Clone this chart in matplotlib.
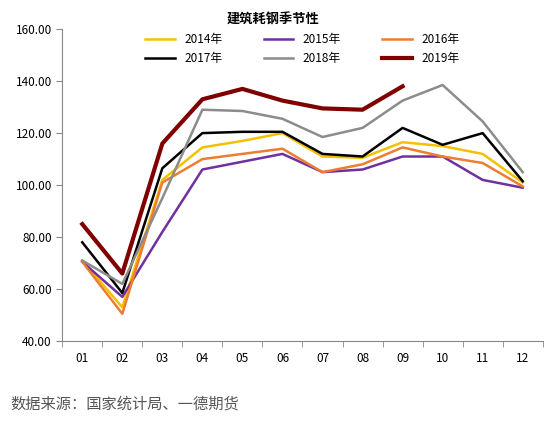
import matplotlib.pyplot as plt

plt.rcParams['font.family'] = ['Noto Sans CJK SC', 'DejaVu Sans']

months = ['01', '02', '03', '04', '05', '06', '07', '08', '09', '10', '11', '12']
y2014 = [71, 53, 102, 114.5, 117, 120, 111, 110.5, 116.5, 115, 112, 101]
y2015 = [70.5, 57, 82, 106, 109, 112, 105, 106, 111, 111, 102, 99]
y2016 = [70.5, 50.5, 101, 110, 112, 114, 105, 108, 114.5, 111, 108.5, 99.5]
y2017 = [78, 58.5, 106.5, 120, 120.5, 120.5, 112, 111, 122, 115.5, 120, 101.5]
y2018 = [71, 62, 95, 129, 128.5, 125.5, 118.5, 122, 132.5, 138.5, 124.5, 105]
y2019 = [85, 66, 116, 133, 137, 132.5, 129.5, 129, 138]

series = [
    ('2014年', y2014, '#f5c000', 1.8),
    ('2015年', y2015, '#7030a0', 1.8),
    ('2016年', y2016, '#ed7d31', 1.8),
    ('2017年', y2017, '#000000', 1.8),
    ('2018年', y2018, '#8c8c8c', 1.8),
    ('2019年', y2019, '#800000', 3.0),
]

fig = plt.figure(figsize=(5.46, 4.28), dpi=100)
ax = fig.add_axes([0.114, 0.203, 0.88, 0.729])
lines = []
for name, vals, col, lw in series:
    ln, = ax.plot(range(len(vals)), vals, color=col, lw=lw, label=name)
    lines.append(ln)

ax.set_xlim(-0.5, 11.5)
ax.set_ylim(40, 160)
ax.set_yticks(range(40, 161, 20))
ax.set_yticklabels([f'{v:.2f}' for v in range(40, 161, 20)], fontsize=8.5)
ax.set_xticks(range(12))
ax.set_xticklabels(months, fontsize=8.5)
ax.set_xticks([i - 0.5 for i in range(13)], minor=True)
ax.tick_params(axis='x', which='major', length=0, pad=8)
ax.tick_params(axis='x', which='minor', length=4, color='#888888')
ax.tick_params(axis='y', length=4, color='#888888')
for s in ['top', 'right']:
    ax.spines[s].set_visible(False)
for s in ['left', 'bottom']:
    ax.spines[s].set_color('#888888')

# row-major legend order
order = [0, 3, 1, 4, 2, 5]
ax.legend([lines[i] for i in order], [series[i][0] for i in order],
          loc='upper center', bbox_to_anchor=(0.5, 1.02), ncol=3, frameon=False,
          fontsize=8.5, handlelength=2.5, columnspacing=3.5, labelspacing=0.5)
fig.text(0.5, 0.955, '建筑耗钢季节性', ha='center', va='center', fontsize=9.5, fontweight='bold')
fig.text(0.02, 0.055, '数据来源：国家统计局、一德期货', ha='left', va='center', fontsize=11, color='#555555')

fig.savefig('out.png', dpi=100)
